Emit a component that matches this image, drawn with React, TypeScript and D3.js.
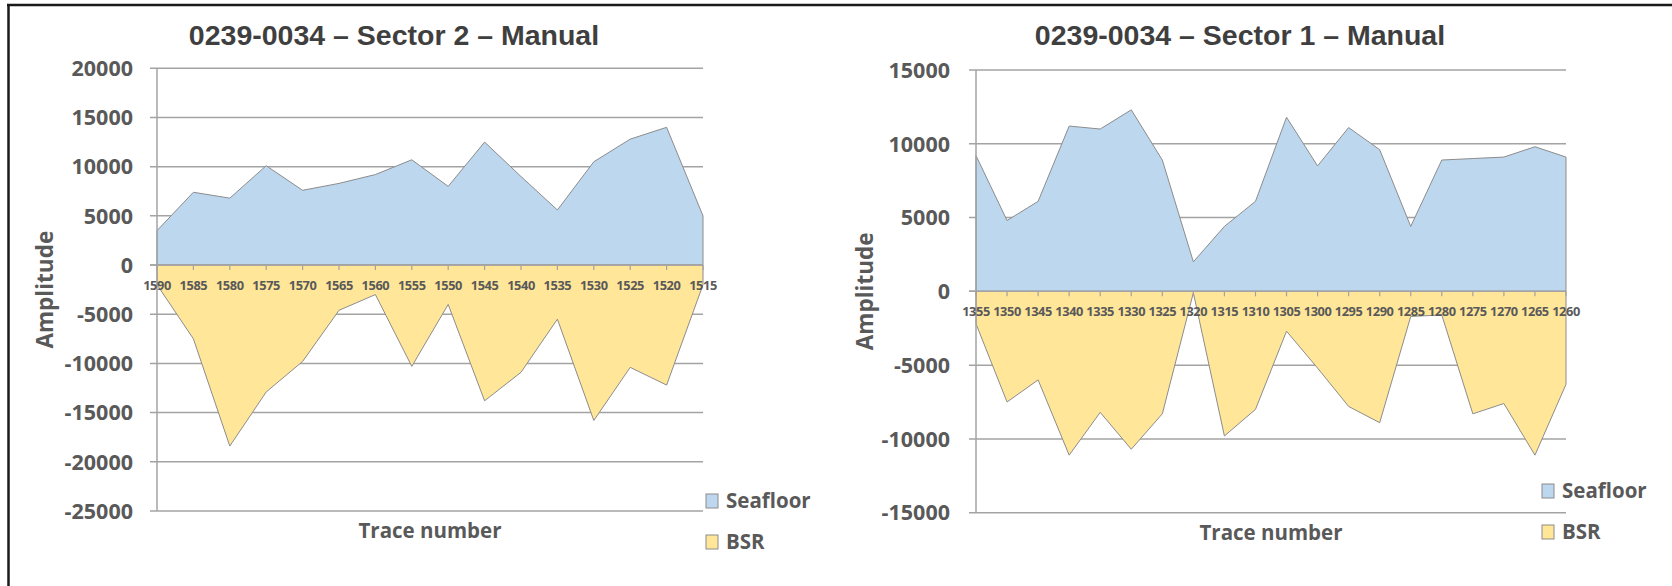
import React from "react";
import * as d3 from "d3";

// Sector 2 – traces run from 1590 down to 1515
const sector2Traces = ["1590", "1585", "1580", "1575", "1570", "1565", "1560", "1555", "1550", "1545", "1540", "1535", "1530", "1525", "1520", "1515"];
const sector2Seafloor = [3500, 7400, 6800, 10100, 7600, 8300, 9200, 10700, 8000, 12500, 9000, 5600, 10500, 12800, 14000, 5000];
const sector2Bsr = [-2000, -7500, -18400, -12900, -9800, -4600, -3000, -10300, -4000, -13800, -10900, -5500, -15800, -10400, -12200, -2000];
const sector2YTicks = [20000, 15000, 10000, 5000, 0, -5000, -10000, -15000, -20000, -25000];

// Sector 1 – traces run from 1355 down to 1260
const sector1Traces = ["1355", "1350", "1345", "1340", "1335", "1330", "1325", "1320", "1315", "1310", "1305", "1300", "1295", "1290", "1285", "1280", "1275", "1270", "1265", "1260"];
const sector1Seafloor = [9200, 4800, 6100, 11200, 11000, 12300, 8900, 2000, 4400, 6100, 11800, 8500, 11100, 9600, 4400, 8900, 9000, 9100, 9800, 9100];
const sector1Bsr = [-2200, -7500, -6000, -11100, -8200, -10700, -8300, -100, -9800, -8000, -2700, -5200, -7800, -8900, -1700, -1600, -8300, -7600, -11100, -6300];
const sector1YTicks = [15000, 10000, 5000, 0, -5000, -10000, -15000];

const seriesNames = ["Seafloor", "BSR"];

const SEAFLOOR_FILL = "#bdd7ee";
const BSR_FILL = "#ffe699";
const OUTLINE = "#8c8c8c";
const GRID = "#a3a3a3";
const TEXT = "#595959";
const TITLE = "#3f3f3f";
const SANS = "'Open Sans', 'Noto Sans', sans-serif";
const TITLE_FONT = "'Liberation Sans', Arial, sans-serif";

type PanelProps = {
  title: string;
  traces: string[];
  seafloor: number[];
  bsr: number[];
  yTicks: number[];
  plot: { left: number; right: number; top: number; bottom: number };
  titleX: number;
  ampX: number;
  labelRight: number;
  legend: { x: number; y: number };
};

function Panel({ title, traces, seafloor, bsr, yTicks, plot, titleX, ampX, labelRight, legend }: PanelProps) {
  const x = d3.scalePoint<string>().domain(traces).range([plot.left, plot.right]).padding(0);
  const y = d3
    .scaleLinear()
    .domain([d3.min(yTicks) as number, d3.max(yTicks) as number])
    .range([plot.bottom, plot.top]);

  const area = d3
    .area<number>()
    .x((_, i) => x(traces[i]) as number)
    .y0(y(0))
    .y1((d) => y(d));

  const midY = (plot.top + plot.bottom) / 2;
  const midX = (plot.left + plot.right) / 2;
  const y0 = y(0);

  return (
    <g>
      <text x={titleX} y={45} textAnchor="middle" fontFamily={TITLE_FONT} fontWeight="bold" fontSize={28.5} fill={TITLE}>
        {title}
      </text>

      {/* horizontal gridlines with outward ticks */}
      {yTicks.map((t) => (
        <line key={`g${t}`} x1={plot.left - 7} x2={plot.right} y1={y(t)} y2={y(t)} stroke={GRID} strokeWidth={1.5} />
      ))}

      {/* filled areas */}
      <path d={area(seafloor) as string} fill={SEAFLOOR_FILL} stroke={OUTLINE} strokeWidth={1} strokeLinejoin="round" />
      <path d={area(bsr) as string} fill={BSR_FILL} stroke={OUTLINE} strokeWidth={1} strokeLinejoin="round" />

      {/* axes */}
      <line x1={plot.left} x2={plot.left} y1={plot.top} y2={plot.bottom} stroke={GRID} strokeWidth={1.5} />
      <line x1={plot.left - 7} x2={plot.right} y1={y0} y2={y0} stroke={GRID} strokeWidth={1.5} />
      {traces.map((tr) => (
        <line key={`t${tr}`} x1={x(tr)} x2={x(tr)} y1={y0} y2={y0 + 5} stroke={GRID} strokeWidth={1.2} />
      ))}

      {/* y tick labels */}
      {yTicks.map((t) => (
        <text key={`l${t}`} x={labelRight} y={y(t)} dy="0.36em" textAnchor="end" fontFamily={SANS} fontWeight="bold" fontSize={21.5} fill={TEXT}>
          {t}
        </text>
      ))}

      {/* x tick labels */}
      {traces.map((tr) => (
        <text key={`x${tr}`} x={x(tr)} y={y0 + 24.5} textAnchor="middle" fontFamily={SANS} fontWeight="bold" fontSize={12.8} fill={TEXT} letterSpacing={-0.4}>
          {tr}
        </text>
      ))}

      {/* axis titles */}
      <text
        transform={`translate(${ampX},${midY}) rotate(-90)`}
        textAnchor="middle"
        dy="0.36em"
        fontFamily={SANS}
        fontWeight="bold"
        fontSize={22.5}
        fill={TEXT}
      >
        Amplitude
      </text>
      <text x={midX} y={plot.bottom + 27} textAnchor="middle" fontFamily={SANS} fontWeight="bold" fontSize={20.5} fill={TEXT}>
        Trace number
      </text>

      {/* legend */}
      {seriesNames.map((name, i) => (
        <g key={name} transform={`translate(${legend.x},${legend.y + i * 41})`}>
          <rect x={0} y={-14} width={12} height={14} fill={i === 0 ? SEAFLOOR_FILL : BSR_FILL} stroke={OUTLINE} strokeWidth={1} />
          <text x={20} y={0} fontFamily={SANS} fontWeight="bold" fontSize={20.5} fill={TEXT}>
            {name}
          </text>
        </g>
      ))}
    </g>
  );
}

export default function App() {
  return (
    <svg
      width={1672}
      height={586}
      viewBox="0 0 1672 586"
      style={{ position: "absolute", left: 0, top: 0, background: "#ffffff" }}
    >
      <rect x={0} y={0} width={1672} height={586} fill="#ffffff" />
      {/* frame edges */}
      <line x1={7} x2={1672} y1={5} y2={5} stroke="#1a1a1a" strokeWidth={2.5} />
      <line x1={8.5} x2={8.5} y1={4} y2={586} stroke="#1a1a1a" strokeWidth={2.5} />

      <Panel
        title="0239-0034 – Sector 2 – Manual"
        traces={sector2Traces}
        seafloor={sector2Seafloor}
        bsr={sector2Bsr}
        yTicks={sector2YTicks}
        plot={{ left: 157, right: 703, top: 68.3, bottom: 511 }}
        titleX={394}
        ampX={45}
        labelRight={133}
        legend={{ x: 706, y: 508 }}
      />
      <Panel
        title="0239-0034 – Sector 1 – Manual"
        traces={sector1Traces}
        seafloor={sector1Seafloor}
        bsr={sector1Bsr}
        yTicks={sector1YTicks}
        plot={{ left: 976, right: 1566, top: 70, bottom: 512.7 }}
        titleX={1240}
        ampX={865}
        labelRight={950}
        legend={{ x: 1542, y: 498 }}
      />
    </svg>
  );
}
